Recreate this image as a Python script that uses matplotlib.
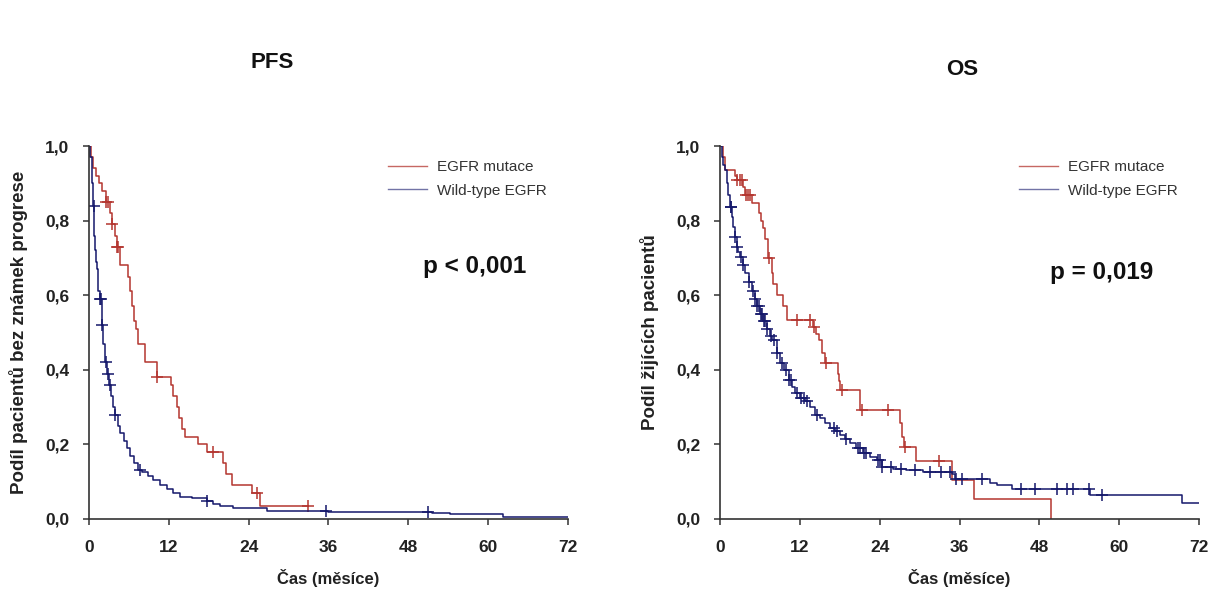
import numpy as np
import matplotlib.pyplot as plt
from matplotlib.lines import Line2D
from matplotlib.ticker import FuncFormatter

# PFS - EGFR mutace (red)
pfs_mut_t = [0, 0.3, 0.6, 1.0, 1.5, 2.0, 2.5, 3.2, 3.5, 3.9, 4.2, 4.6, 5.8, 6.1, 6.4, 6.7, 7.1, 7.4,
             8.4, 10.2, 12.3, 12.7, 13.2, 13.6, 14.0, 14.4, 16.4, 17.8, 20.1, 20.6, 21.5, 24.5, 25.7, 33.0]
pfs_mut_s = [1.0, 0.97, 0.94, 0.92, 0.90, 0.88, 0.85, 0.82, 0.79, 0.76, 0.73, 0.68, 0.65, 0.61, 0.57, 0.53, 0.51, 0.47,
             0.42, 0.38, 0.36, 0.33, 0.30, 0.27, 0.24, 0.22, 0.20, 0.18, 0.15, 0.12, 0.09, 0.07, 0.035, 0.035]
pfs_mut_cens = [2.6, 2.9, 3.5, 4.2, 4.4, 10.3, 18.6, 25.2, 33.0]

# PFS - Wild-type EGFR (blue)
pfs_wt_t = [0, 0.2, 0.4, 0.5, 0.65, 0.75, 0.9, 1.0, 1.15, 1.3, 1.4, 1.6, 1.9, 2.1, 2.4, 2.7, 3.0, 3.3, 3.6, 3.9,
            4.3, 4.7, 5.2, 5.7, 6.2, 6.8, 7.4, 7.9, 8.8, 9.7, 10.7, 11.7, 12.7, 13.7, 15.5, 17.7, 18.7, 19.7,
            21.7, 26.7, 36.0, 51.5, 54.2, 62.2, 72.0]
pfs_wt_s = [1.0, 0.97, 0.95, 0.90, 0.84, 0.76, 0.72, 0.69, 0.67, 0.64, 0.61, 0.59, 0.52, 0.47, 0.42, 0.39, 0.36, 0.33, 0.30, 0.28,
            0.25, 0.23, 0.21, 0.19, 0.17, 0.15, 0.13, 0.125, 0.115, 0.105, 0.09, 0.08, 0.07, 0.06, 0.055, 0.049, 0.04, 0.035,
            0.029, 0.022, 0.02, 0.015, 0.012, 0.005, 0.005]
pfs_wt_cens = [0.7, 1.65, 1.75, 1.95, 2.5, 2.8, 3.1, 3.9, 7.6, 17.8, 35.7, 51.0]

# OS - EGFR mutace (red)
os_mut_t = [0, 0.4, 0.8, 2.3, 2.6, 3.4, 3.7, 4.8, 5.9, 6.2, 6.5, 6.8, 7.2, 7.8, 8.0, 8.5, 9.4, 10.0, 14.0, 14.4,
            14.8, 15.3, 15.8, 17.7, 17.9, 18.1, 21.1, 27.0, 27.3, 27.6, 29.5, 34.8, 38.2, 49.7]
os_mut_s = [1.0, 0.97, 0.935, 0.92, 0.91, 0.89, 0.87, 0.847, 0.82, 0.80, 0.78, 0.75, 0.70, 0.66, 0.63, 0.60, 0.57, 0.533, 0.515, 0.497,
            0.48, 0.445, 0.418, 0.39, 0.37, 0.346, 0.292, 0.257, 0.22, 0.194, 0.155, 0.105, 0.053, 0.0]
os_mut_cens = [2.6, 3.0, 3.3, 3.9, 4.2, 4.5, 7.4, 11.6, 13.5, 14.1, 16.0, 18.4, 21.3, 25.2, 27.8, 32.9]

# OS - Wild-type EGFR (blue)
os_wt_t = [0, 0.3, 0.5, 0.75, 1.0, 1.25, 1.5, 1.75, 2.0, 2.25, 2.5, 2.75, 3.0, 3.4, 3.8, 4.3, 4.8, 5.2, 5.5, 6.0,
           6.5, 7.0, 7.5, 7.8, 8.5, 9.0, 9.6, 10.3, 10.8, 11.3, 12.0, 12.8, 13.5, 14.3, 15.0, 15.8, 16.6, 17.3,
           18.0, 18.8, 19.5, 20.5, 21.5, 22.5, 23.6, 24.3, 26.0, 28.0, 30.5, 34.8, 35.3, 40.6, 41.6, 43.9,
           55.6, 69.5, 72.0]
os_wt_s = [1.0, 0.97, 0.95, 0.935, 0.90, 0.87, 0.837, 0.81, 0.784, 0.757, 0.73, 0.715, 0.703, 0.68, 0.659, 0.635, 0.61, 0.59, 0.57, 0.55,
           0.53, 0.51, 0.49, 0.48, 0.444, 0.417, 0.40, 0.373, 0.355, 0.337, 0.325, 0.315, 0.30, 0.28, 0.27, 0.257, 0.245, 0.235,
           0.225, 0.214, 0.203, 0.19, 0.176, 0.167, 0.158, 0.14, 0.135, 0.13, 0.127, 0.12, 0.107, 0.096, 0.09, 0.08,
           0.064, 0.042, 0.042]
os_wt_cens = [1.6, 1.7, 2.3, 2.6, 3.2, 3.5, 4.4, 4.9, 5.3, 5.6, 5.8, 6.1, 6.3, 6.6, 6.8, 7.1, 7.6, 8.1, 8.6, 9.3,
              9.9, 10.4, 10.7, 11.5, 12.2, 12.6, 13.0, 14.6, 17.2, 17.6, 18.9, 20.8, 21.0, 21.6, 22.0, 23.8, 24.1,
              24.4, 25.7, 27.2, 29.3, 31.6, 33.2, 34.6, 35.5, 36.4, 39.4, 45.2, 47.3, 50.6, 52.1, 53.0, 55.5, 57.4]

x_ticks = [0, 12, 24, 36, 48, 60, 72]
y_ticks = [0.0, 0.2, 0.4, 0.6, 0.8, 1.0]
labels = ["EGFR mutace", "Wild-type EGFR"]

RED = "#b4352f"
BLUE = "#15186b"
FONT = ["Liberation Sans", "DejaVu Sans"]


def km(ax, t, s, cens, color):
    t = np.array(t)
    s = np.array(s)
    ax.step(t, s, where="post", color=color, lw=1.1)
    c = np.array(cens)
    idx = np.searchsorted(t, c, side="right") - 1
    ax.plot(c, s[idx], "+", color=color, ms=8, mew=1.1)


def style(ax, ylabel, ptext, pxy, title_xy, title):
    ax.set_xlim(0, 72)
    ax.set_ylim(0, 1.0)
    ax.set_xticks(x_ticks)
    ax.set_yticks(y_ticks)
    ax.yaxis.set_major_formatter(FuncFormatter(lambda v, p: f"{v:.1f}".replace(".", ",")))
    for sp in ["top", "right"]:
        ax.spines[sp].set_visible(False)
    for sp in ["left", "bottom"]:
        ax.spines[sp].set_color("#333333")
        ax.spines[sp].set_linewidth(1.2)
        ax.spines[sp].set_clip_on(False)
    ax.tick_params(direction="out", length=4, width=1.1, color="#333333")
    ax.tick_params(axis="x", pad=11)
    ax.tick_params(axis="y", pad=10)
    for lab in ax.get_xticklabels() + ax.get_yticklabels():
        lab.set_family(FONT)
        lab.set_fontweight("bold")
        lab.set_fontsize(12.5)
        lab.set_color("#222222")
    ax.set_xlabel("Čas (měsíce)", family=FONT, fontweight="bold", fontsize=12, color="#222222")
    ax.set_ylabel(ylabel, family=FONT, fontweight="bold", fontsize=13.5, color="#222222")
    ax.xaxis.set_label_coords(0.5, -0.135)
    ax.yaxis.set_label_coords(-0.127, 0.5)
    handles = [Line2D([], [], color=RED, lw=1.0, alpha=0.75),
               Line2D([], [], color=BLUE, lw=1.0, alpha=0.6)]
    leg = ax.legend(handles, labels, loc="upper left", bbox_to_anchor=(0.612, 0.979), frameon=False,
                    borderaxespad=0, handlelength=2.55, handletextpad=0.65, labelspacing=0.63,
                    prop={"family": FONT, "size": 11})
    for txt in leg.get_texts():
        txt.set_color("#333333")
    ax.text(pxy[0], pxy[1], ptext, transform=ax.transAxes, ha="center", va="center",
            family=FONT, fontweight="bold", fontsize=17.5, color="#111111")
    fig.text(title_xy[0], title_xy[1], title, ha="center", va="center",
             family=FONT, fontweight="bold", fontsize=16, color="#111111")


fig = plt.figure(figsize=(12.12, 5.97), dpi=100)
ax1 = fig.add_axes([0.0734, 0.1307, 0.3952, 0.6247])
ax2 = fig.add_axes([0.5941, 0.1307, 0.3952, 0.6247])

km(ax1, pfs_mut_t, pfs_mut_s, pfs_mut_cens, RED)
km(ax1, pfs_wt_t, pfs_wt_s, pfs_wt_cens, BLUE)
style(ax1, "Podíl pacientů bez známek progrese", "p < 0,001", (0.806, 0.676), (0.2244, 0.896), "PFS")

km(ax2, os_mut_t, os_mut_s, os_mut_cens, RED)
km(ax2, os_wt_t, os_wt_s, os_wt_cens, BLUE)
style(ax2, "Podíl žijících pacientů", "p = 0,019", (0.797, 0.662), (0.7937, 0.883), "OS")

fig.savefig("out.png", dpi=100)
